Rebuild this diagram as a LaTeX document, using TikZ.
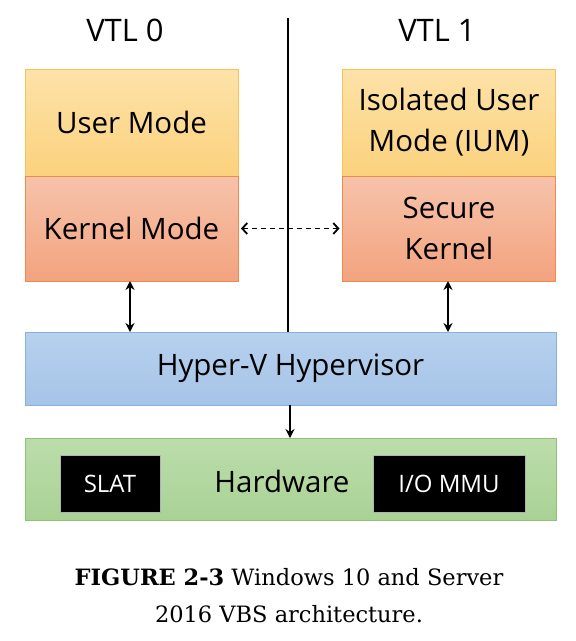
\documentclass[tikz,border=0pt]{standalone}
\usepackage{fontspec}
\setmainfont{Open Sans}
\newfontfamily\capfont{DejaVu Serif}
\usetikzlibrary{arrows.meta}
\definecolor{umtop}{HTML}{FDE2A8}
\definecolor{umbot}{HTML}{FBD27E}
\definecolor{umline}{HTML}{F8C25A}
\definecolor{kmtop}{HTML}{F6C3AA}
\definecolor{kmbot}{HTML}{F3A37F}
\definecolor{kmline}{HTML}{F0894A}
\definecolor{hvtop}{HTML}{B7D1EE}
\definecolor{hvbot}{HTML}{A6C4E8}
\definecolor{hvline}{HTML}{86B2E2}
\definecolor{hwtop}{HTML}{BCDDAB}
\definecolor{hwbot}{HTML}{A9D295}
\definecolor{hwline}{HTML}{8CC472}
\tikzset{
  x=1pt,y=-1pt,
  layerbox/.style={draw, line width=1pt, inner sep=0pt, outer sep=0pt, align=center, font=\fontsize{29.5}{41}\selectfont},
  umbox/.style={layerbox, draw=umline, top color=umtop, bottom color=umbot, minimum width=213pt, minimum height=107pt},
  kmbox/.style={layerbox, draw=kmline, top color=kmtop, bottom color=kmbot, minimum width=213pt, minimum height=105pt},
  hwchip/.style={fill=black, draw=gray!60, line width=0.6pt, text=white, font=\fontsize{24}{28}\selectfont, inner sep=0pt},
  link/.style={line width=2pt, {Stealth[length=9pt,width=9pt]}-{Stealth[length=9pt,width=9pt]}},
  titletext/.style={font=\fontsize{31}{36}\selectfont}
}
\begin{document}
\begin{tikzpicture}
\useasboundingbox (0,0) rectangle (576,641);
\node[titletext] (vtl0) at (125,30) {VTL 0};
\node[titletext] (vtl1) at (437,30) {VTL 1};
\coordinate (divtop) at (288,18);
\node[umbox] (um) at (131.5,122.5) {User Mode};
\node[kmbox] (km) at (131.5,228.5) {Kernel Mode};
\node[umbox] (ium) at (449,122.5) {Isolated User\\Mode (IUM)};
\node[kmbox] (sk) at (449,228.5) {Secure\\Kernel};
\node[layerbox, draw=hvline, top color=hvtop, bottom color=hvbot, minimum width=531pt, minimum height=73pt] (hv) at (290.5,368.5) {Hyper-V Hypervisor};
\node[layerbox, draw=hwline, top color=hwtop, bottom color=hwbot, minimum width=531pt, minimum height=82pt] (hw) at (290.5,479) {};
\node[layerbox, draw=none, fill=none] (hwlabel) at (282,481) {Hardware};
\node[hwchip, minimum width=100pt, minimum height=57pt] (slat) at (110,483.5) {SLAT};
\node[hwchip, minimum width=152pt, minimum height=57pt] (iommu) at (449,483.5) {I/O MMU};
\draw[line width=2pt] (divtop) -- (hv.north -| divtop);
\draw[line width=1.8pt, dashed, dash pattern=on 5pt off 4pt, {Straight Barb[length=5pt,width=11pt]}-{Straight Barb[length=5pt,width=11pt]}] ([xshift=3pt]km.east) -- ([xshift=-3pt]sk.west);
\draw[link] (km.south -| 130,0) -- (hv.north -| 130,0);
\draw[link] (sk.south -| 448,0) -- (hv.north -| 448,0);
\draw[line width=2pt, -{Stealth[length=9pt,width=9pt]}] (hv.south -| 290,0) -- (hw.north -| 290,0);
\node[font=\capfont\fontsize{22.5}{37}\selectfont, align=center] (cap) at (289,596) {\textbf{FIGURE 2-3} Windows 10 and Server\\2016 VBS architecture.};
\end{tikzpicture}
\end{document}
